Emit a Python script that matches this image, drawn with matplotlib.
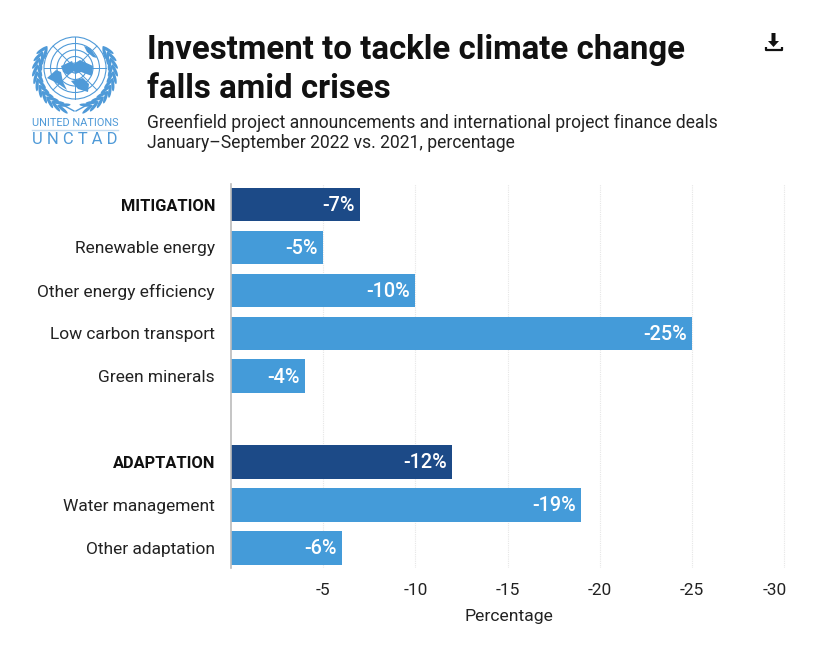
#!/usr/bin/env python3
# -*- coding: utf-8 -*-
import numpy as np
import matplotlib
matplotlib.use("Agg")
import matplotlib.pyplot as plt
from matplotlib.patches import Circle, Ellipse, Polygon
from matplotlib.transforms import ScaledTranslation

plt.rcParams['font.family'] = ['Roboto', 'DejaVu Sans']

W, H = 840, 646

# data
categories = ['MITIGATION', 'Renewable energy', 'Other energy efficiency',
              'Low carbon transport', 'Green minerals', '',
              'ADAPTATION', 'Water management', 'Other adaptation']
values = [-7, -5, -10, -25, -4, None, -12, -19, -6]
headers = ['MITIGATION', 'ADAPTATION']
xticks = [-5, -10, -15, -20, -25, -30]

DARK = '#1c4a87'
LIGHT = '#449bd9'
LOGO = '#4f9ad8'

fig = plt.figure(figsize=(W / 100, H / 100), dpi=100, facecolor='white')

# page layer in pixel coordinates, for the header, logo and icon
page = fig.add_axes([0, 0, 1, 1])
page.set_xlim(0, W)
page.set_ylim(H, 0)
page.axis('off')

page.text(147, 49.5, 'Investment to tackle climate change', fontsize=23.75,
          fontweight='bold', color='#111111', va='center')
page.text(147, 88.5, 'falls amid crises', fontsize=23.75,
          fontweight='bold', color='#111111', va='center')
page.text(147, 122.5, 'Greenfield project announcements and international project finance deals',
          fontsize=12.65, color='#222222', va='center')
page.text(147, 142.5, 'January\u2013September 2022 vs. 2021, percentage',
          fontsize=12.65, color='#222222', va='center')

# download icon
page.add_patch(Polygon([(771.5, 33), (775.5, 33), (775.5, 41), (779, 41), (773.5, 47), (768, 41), (771.5, 41)],
                       color='#111111', lw=0))
page.plot([765.5, 765.5, 782, 782], [47, 50, 50, 47], color='#111111', lw=1.6, solid_capstyle='butt')

# UN logo
cx, cy = 75, 68
for r in [31, 24.5, 18, 11.5, 5]:
    page.add_patch(Circle((cx, cy), r, fill=False, ec=LOGO, lw=0.8))
for ang in np.arange(0, 180, 45):
    dx, dy = 31 * np.cos(np.radians(ang)), 31 * np.sin(np.radians(ang))
    page.plot([cx - dx, cx + dx], [cy - dy, cy + dy], color=LOGO, lw=0.7)
for blob in [[(47, 78), (56, 70), (61, 72), (63, 82), (67, 90), (60, 85), (53, 81)],
             [(61, 66), (72, 61), (76, 70), (68, 75), (63, 72)],
             [(72, 65), (80, 60), (93, 66), (92, 76), (81, 72), (75, 74)],
             [(71, 81), (83, 78), (89, 84), (88, 92), (78, 89)],
             [(84, 46), (90, 48), (97, 58), (93, 57), (87, 52)]]:
    page.add_patch(Polygon(blob, color=LOGO, lw=0))
for side in [-1, 1]:
    for t in np.linspace(-34, 72, 11):
        for off, tilt in [(35.5, 22), (40, -22)]:
            a = np.radians(t)
            px = cx + side * off * np.cos(a)
            py = cy + 4 + off * 0.98 * np.sin(a)
            page.add_patch(Ellipse((px, py), 13, 3.2, color=LOGO, lw=0,
                                   angle=side * (t + 90 + tilt)))
    page.plot([cx + side * 1, cx + side * 12], [111, 105], color=LOGO, lw=1)
page.text(75, 123.5, 'UNITED NATIONS', fontsize=7.9, color=LOGO, ha='center', va='center')
page.plot([32, 118], [130, 130], color='#c5dcf0', lw=1)
page.text(75, 139, 'U N C T A D', fontsize=12, color=LOGO, ha='center', va='center')

# chart
left, right, top, bottom = 231, 787, 184, 568
ax = fig.add_axes([left / W, 1 - bottom / H, (right - left) / W, (bottom - top) / H])
ax.patch.set_alpha(0)

pos = np.arange(len(categories))
bar_vals = [0 if v is None else v for v in values]
colors = [DARK if c in headers else LIGHT for c in categories]
ax.barh(pos, bar_vals, height=0.78, color=colors, zorder=2)

for i, v in enumerate(values):
    if v is not None:
        ax.text(v + 0.27, i + 0.02, f'{v}%', color='white', fontsize=14.3,
                ha='right', va='center', fontweight='medium', zorder=3)

ax.set_xlim(0, -30.15)
ax.set_ylim(8.47, -0.48)
ax.set_xticks(xticks)
ax.set_xticklabels([str(t) for t in xticks], fontsize=12.4, color='#222222')
ax.set_yticks(pos)
ax.set_yticklabels(categories, fontsize=12.55, color='#222222')
for lab in ax.get_yticklabels():
    if lab.get_text() in headers:
        lab.set_fontweight('bold')
        lab.set_fontsize(11.8)
        lab.set_color('#111111')
ax.tick_params(axis='both', length=0)
ax.tick_params(axis='y', pad=11.5)
ax.tick_params(axis='x', pad=10.5)
# last tick label sits flush with the right edge
last = ax.get_xticklabels()[-1]
last.set_ha('right')
last.set_transform(last.get_transform() + ScaledTranslation(3 / 100, 0, fig.dpi_scale_trans))
ax.grid(axis='x', color='#e6e6e6', lw=0.8, ls=(0, (1, 1)), zorder=0)
for s in ['top', 'right', 'bottom']:
    ax.spines[s].set_visible(False)
ax.spines['left'].set_color('#bbbbbb')
ax.spines['left'].set_linewidth(1.2)
ax.set_xlabel('Percentage', fontsize=12.6, color='#222222')
ax.xaxis.set_label_coords((508.5 - left) / (right - left), -0.107)

fig.savefig('out.png', dpi=100)
